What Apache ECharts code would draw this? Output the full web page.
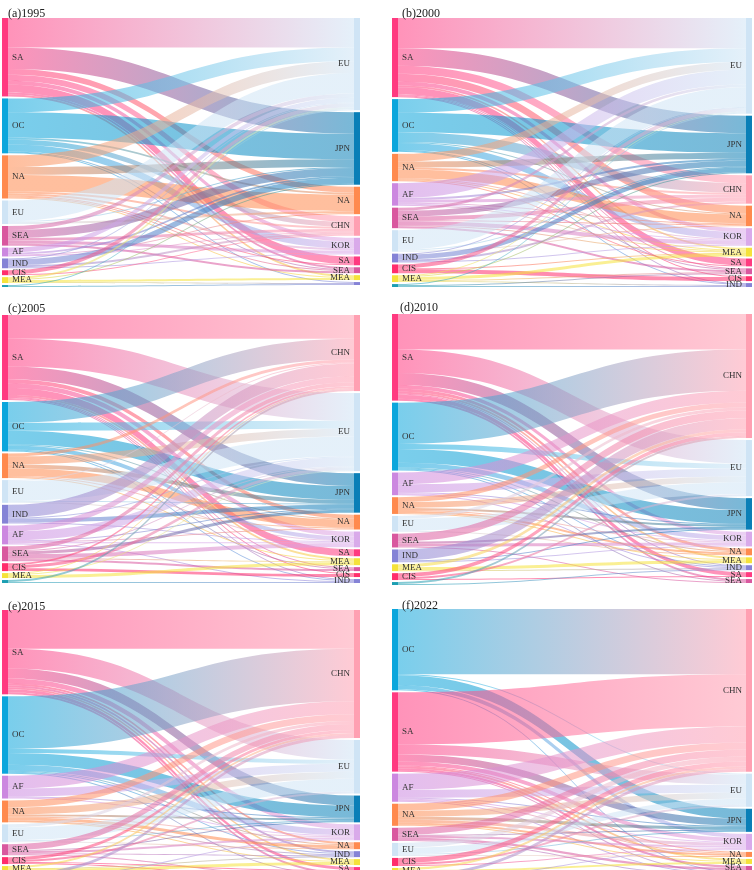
<!DOCTYPE html>
<html>
<head>
<meta charset="utf-8">
<script src="https://cdn.jsdelivr.net/npm/echarts@6/dist/echarts.min.js"></script>
<style>
  html, body { margin: 0; padding: 0; background: #fff; }
  #app { width: 754px; height: 870px; }
</style>
</head>
<body>
<div id="app"></div>
<script>
// exporters (left) / importers (right) and flow matrices, one set per year
const exp1995 = ['SA', 'OC', 'NA', 'EU', 'SEA', 'AF', 'IND', 'CIS', 'MEA', 'OT'];
const imp1995 = ['EU', 'JPN', 'NA', 'CHN', 'KOR', 'SA', 'SEA', 'MEA', 'IND'];
const flow1995 = [
    [30, 22, 6, 6, 4, 8, 2, 2, 0],
    [14, 26, 2, 5, 7, 0, 1, 0, 1],
    [12, 8, 17, 2, 2, 1, 1, 1, 0],
    [21, 1, 2, 0, 0, 0, 0, 0, 0],
    [4, 8, 0, 3, 3, 0, 2, 0, 0],
    [5, 2, 1, 1, 0, 0, 0, 0, 0],
    [1, 6, 0, 2, 1, 0, 0, 0, 0],
    [4, 0, 0, 1, 0, 0, 0, 0, 0],
    [2, 1, 0, 0, 0, 0, 0, 2, 1],
    [1, 0, 0, 0, 0, 0, 0, 0, 1]
];

const exp2000 = ['SA', 'OC', 'NA', 'AF', 'SEA', 'EU', 'IND', 'CIS', 'MEA', 'OT'];
const imp2000 = ['EU', 'JPN', 'CHN', 'NA', 'KOR', 'MEA', 'SA', 'SEA', 'CIS', 'IND'];
const flow2000 = [
    [31, 18, 8, 8, 4, 2, 7, 1, 1, 1],
    [14, 20, 10, 1, 7, 0, 0, 1, 0, 1],
    [8, 6, 2, 9, 1, 1, 1, 0, 0, 0],
    [15, 2, 3, 1, 1, 1, 0, 0, 0, 0],
    [3, 6, 4, 1, 4, 1, 0, 2, 0, 0],
    [20, 1, 0, 1, 0, 0, 0, 0, 0, 0],
    [1, 5, 2, 0, 1, 0, 0, 0, 0, 0],
    [4, 0, 0, 0, 0, 1, 0, 0, 4, 0],
    [1, 1, 0, 0, 0, 3, 0, 1, 0, 1],
    [1, 0, 0, 0, 0, 0, 0, 1, 0, 1]
];

const exp2005 = ['SA', 'OC', 'NA', 'EU', 'IND', 'AF', 'SEA', 'CIS', 'MEA', 'OT'];
const imp2005 = ['CHN', 'EU', 'JPN', 'NA', 'KOR', 'SA', 'MEA', 'SEA', 'CIS', 'IND'];
const flow2005 = [
    [24, 28, 13, 4, 5, 7, 2, 1, 1, 1],
    [21, 8, 14, 1, 4, 0, 0, 1, 0, 1],
    [3, 8, 4, 8, 1, 0, 1, 0, 0, 0],
    [1, 20, 1, 1, 0, 0, 0, 0, 0, 0],
    [13, 1, 4, 0, 1, 0, 0, 0, 0, 0],
    [6, 9, 1, 1, 1, 0, 0, 0, 0, 1],
    [4, 1, 3, 0, 4, 0, 1, 2, 0, 0],
    [2, 3, 0, 0, 0, 0, 0, 0, 3, 0],
    [1, 1, 0, 0, 0, 0, 3, 0, 0, 0],
    [2, 0, 0, 0, 0, 0, 0, 0, 0, 1]
];

const exp2010 = ['SA', 'OC', 'AF', 'NA', 'EU', 'SEA', 'IND', 'MEA', 'CIS', 'OT'];
const imp2010 = ['CHN', 'EU', 'JPN', 'KOR', 'NA', 'MEA', 'IND', 'SA', 'SEA'];
const flow2010 = [
    [36, 24, 12, 4, 3, 2, 1, 4, 2],
    [42, 5, 14, 5, 1, 0, 1, 0, 1],
    [12, 8, 1, 1, 0, 0, 1, 0, 0],
    [5, 6, 2, 1, 2, 1, 0, 0, 0],
    [3, 12, 0, 0, 1, 0, 0, 0, 0],
    [8, 0, 2, 3, 0, 0, 0, 0, 1],
    [11, 0, 1, 1, 0, 0, 0, 0, 0],
    [3, 0, 0, 0, 0, 3, 1, 0, 0],
    [4, 2, 0, 0, 0, 0, 0, 1, 0],
    [2, 0, 0, 0, 0, 0, 1, 0, 0]
];

const exp2015 = ['SA', 'OC', 'AF', 'NA', 'EU', 'SEA', 'CIS', 'MEA', 'IND'];
const imp2015 = ['CHN', 'EU', 'JPN', 'KOR', 'NA', 'IND', 'MEA', 'SA', 'SEA', 'CIS'];
const flow2015 = [
    [39, 20, 10, 5, 2, 2, 2, 3, 2, 0],
    [53, 4, 12, 6, 1, 1, 0, 0, 1, 0],
    [13, 8, 1, 1, 0, 0, 0, 0, 0, 0],
    [7, 7, 2, 1, 3, 1, 1, 0, 0, 0],
    [3, 13, 1, 0, 1, 0, 0, 0, 0, 0],
    [6, 0, 1, 2, 0, 1, 0, 0, 1, 0],
    [3, 2, 0, 0, 0, 0, 0, 1, 0, 1],
    [2, 0, 0, 0, 0, 1, 3, 0, 0, 0],
    [3, 0, 0, 1, 0, 0, 0, 0, 0, 0]
];

const exp2022 = ['OC', 'SA', 'AF', 'NA', 'SEA', 'EU', 'CIS', 'MEA', 'IND'];
const imp2022 = ['CHN', 'EU', 'JPN', 'KOR', 'NA', 'MEA', 'SEA', 'IND'];
const flow2022 = [
    [65, 1, 10, 4, 0, 0, 0, 1],
    [52, 10, 7, 4, 1, 2, 2, 1],
    [16, 8, 1, 1, 1, 0, 0, 1],
    [7, 6, 3, 3, 2, 1, 0, 0],
    [7, 0, 1, 2, 0, 0, 2, 1],
    [5, 6, 1, 0, 1, 0, 0, 0],
    [5, 2, 0, 1, 0, 0, 0, 0],
    [2, 0, 0, 0, 0, 2, 0, 1],
    [3, 0, 0, 1, 0, 0, 0, 0]
];

const titles = ['(a)1995', '(b)2000', '(c)2005', '(d)2010', '(e)2015', '(f)2022'];

// colours per region
const colors = {
    SA: '#ff3a80', OC: '#0ba6dc', NA: '#ff8a4e', EU: '#cfe4f5', SEA: '#d9589f',
    AF: '#cc88e0', IND: '#8583d6', CIS: '#ff2e6c', MEA: '#f5e23a', JPN: '#0a7fb7',
    CHN: '#ffa0b2', KOR: '#d9aaea', OT: '#1c9fb2'
};

// panel boxes [left, top, width, height]
const boxes = [
    [2, 18, 358, 269], [392, 18, 360, 269],
    [2, 315, 358, 268], [392, 314, 360, 271],
    [2, 610, 358, 270], [392, 609, 360, 270]
];
const titlePos = [[3, 3], [397, 3], [3, 298], [395, 297], [3, 596], [397, 595]];

function buildSeries(exps, imps, flow, box) {
    const outSum = exps.map((_, i) => flow[i].reduce((a, b) => a + b, 0));
    const inSum = imps.map((_, j) => flow.reduce((a, r) => a + r[j], 0));
    const nodes = [];
    exps.forEach((e, i) => nodes.push({
        name: 'L-' + e,
        itemStyle: {color: colors[e]},
        label: {show: outSum[i] >= 4}
    }));
    imps.forEach((m, j) => nodes.push({
        name: 'R-' + m,
        itemStyle: {color: colors[m]},
        label: {show: inSum[j] >= 4, position: 'left'}
    }));
    const links = [];
    exps.forEach((e, i) => {
        imps.forEach((m, j) => {
            if (flow[i][j] > 0) {
                links.push({source: 'L-' + e, target: 'R-' + m, value: flow[i][j]});
            }
        });
    });
    return {
        type: 'sankey',
        left: box[0],
        top: box[1],
        width: box[2],
        height: box[3],
        nodeWidth: 6,
        nodeGap: 2,
        layoutIterations: 0,
        draggable: false,
        emphasis: {disabled: true},
        data: nodes,
        links: links,
        label: {
            fontSize: 9,
            fontFamily: 'Liberation Serif',
            color: '#333',
            distance: 4,
            formatter: (p) => p.name.slice(2)
        },
        itemStyle: {borderWidth: 0},
        lineStyle: {color: 'gradient', opacity: 0.55, curveness: 0.5}
    };
}

const panels = [
    [exp1995, imp1995, flow1995], [exp2000, imp2000, flow2000],
    [exp2005, imp2005, flow2005], [exp2010, imp2010, flow2010],
    [exp2015, imp2015, flow2015], [exp2022, imp2022, flow2022]
];

const myChart = echarts.init(document.getElementById('app'));
myChart.setOption({
    animation: false,
    title: titles.map((t, k) => ({
        text: t,
        left: titlePos[k][0],
        top: titlePos[k][1],
        textStyle: {fontSize: 12, fontWeight: 'normal', fontFamily: 'Liberation Serif', color: '#222'}
    })),
    series: panels.map((p, k) => buildSeries(p[0], p[1], p[2], boxes[k]))
});
</script>
</body>
</html>
